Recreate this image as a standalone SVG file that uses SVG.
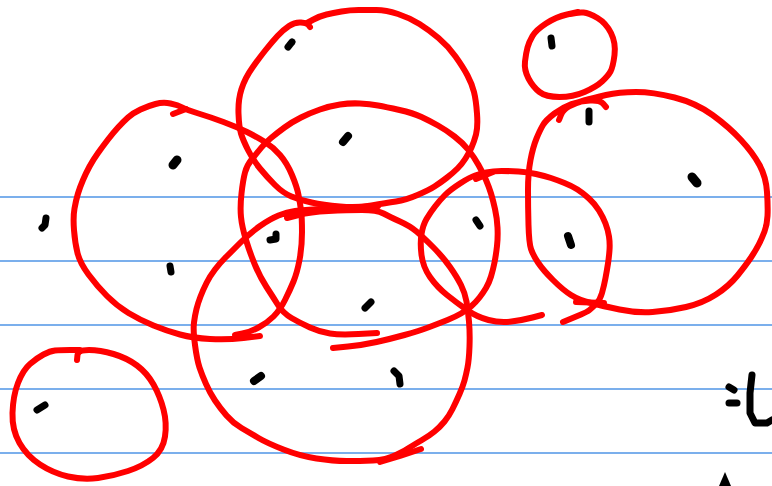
<svg xmlns="http://www.w3.org/2000/svg" width="772" height="486" viewBox="0 0 772 486">
<style>
.rule{stroke:#4f94e6;stroke-width:1.6;fill:none}
.red{stroke:#ff0000;stroke-width:6;fill:none;stroke-linecap:round;stroke-linejoin:round}
.dot{stroke:#000;stroke-width:7;fill:none;stroke-linecap:round;stroke-linejoin:round}
</style>
<rect width="772" height="486" fill="#ffffff"/>
<g id="rules">
<line class="rule" x1="0" y1="197" x2="772" y2="197"/>
<line class="rule" x1="0" y1="261" x2="772" y2="261"/>
<line class="rule" x1="0" y1="325" x2="772" y2="325"/>
<line class="rule" x1="0" y1="389" x2="772" y2="389"/>
<line class="rule" x1="0" y1="453" x2="772" y2="453"/>
</g>
<g id="circles">
<path id="circleA" class="red" d="M307,23 L313.5,19.5 Q320,16 326.5,14.5 Q333,13 341.5,11.5 Q350,10 358.5,10 Q367,10 376.5,10 Q386,10 398,14 Q410,18 419.5,24 Q429,30 438.5,38 Q448,46 455.5,56.5 Q463,67 467.5,75.5 Q472,84 474,92 Q476,100 477,113.5 Q478,127 476,134.5 Q474,142 471.5,147.5 Q469,153 465.5,158.5 Q462,164 457.5,168.5 Q453,173 446.5,178 Q440,183 434.5,186.5 Q429,190 417.5,195 Q406,200 396,201.5 Q386,203 371.5,205.5 Q357,208 340,206.5 Q323,205 311.5,202.5 Q300,200 291.5,196.5 Q283,193 275,185 Q267,177 260,168.5 Q253,160 248,150 Q243,140 241,133.5 Q239,127 238.5,113.5 Q238,100 241.5,89 Q245,78 252.5,67.5 Q260,57 266,49.5 Q272,42 277.5,36 Q283,30 289,26 Q295,22 301,22.5 Q307,23 308.5,25 L310,27"/>
<path id="circleB" class="red" d="M377,333 L358.5,334 Q340,335 330,333.5 Q320,332 310,327.5 Q300,323 291.5,318 Q283,313 278,305 Q273,297 266.5,287 Q260,277 255,265 Q250,253 246,240 Q242,227 241,217 Q240,207 241.5,193.5 Q243,180 245,172.5 Q247,165 252,159 Q257,153 261,148 Q265,143 271,138 Q277,133 284.5,127.5 Q292,122 301,117.5 Q310,113 320,109.5 Q330,106 340,104.5 Q350,103 360,103.5 Q370,104 378,105.5 Q386,107 399.5,110 Q413,113 421.5,117 Q430,121 438,125.5 Q446,130 454.5,136.5 Q463,143 468.5,150 Q474,157 478.5,165 Q483,173 486,180 Q489,187 491,193.5 Q493,200 495,209 Q497,218 497.5,227.5 Q498,237 497,246 Q496,255 494.5,262.5 Q493,270 491,276.5 Q489,283 486,288 Q483,293 479.5,297.5 Q476,302 471.5,306 Q467,310 461,313.5 Q455,317 447.5,320 Q440,323 429.5,327 Q419,331 404.5,335 Q390,339 376.5,342 Q363,345 348,346.5 L333,348"/>
<path id="circleC" class="red" d="M287,218 L298.5,215 Q310,212 328.5,211 Q347,210 362,210 Q377,210 383.5,213.5 Q390,217 400,221.5 Q410,226 416.5,231.5 Q423,237 433,247 Q443,257 450,267 Q457,277 461,285 Q465,293 466.5,301.5 Q468,310 469,321.5 Q470,333 469.5,346.5 Q469,360 467.5,367.5 Q466,375 464.5,380.5 Q463,386 459.5,394 Q456,402 452.5,409 Q449,416 444.5,421.5 Q440,427 434.5,431.5 Q429,436 422,440 Q415,444 410.5,447 Q406,450 396,455 Q386,460 373,460.5 Q360,461 346.5,461 Q333,461 316.5,458.5 Q300,456 283.5,449.5 Q267,443 258.5,438 Q250,433 241.5,428 Q233,423 226.5,415.5 Q220,408 215,400.5 Q210,393 206,384 Q202,375 199.5,367.5 Q197,360 195,345 Q193,330 194,322.5 Q195,315 196.5,309 Q198,303 200.5,296.5 Q203,290 206.5,283 Q210,276 215,269.5 Q220,263 225,258 Q230,253 240,243 Q250,233 260,226 Q270,219 278.5,215.5 Q287,212 295,211 Q303,210 321.5,209 Q340,208 359,207 L378,206"/>
<path class="red" d="M380,462 L400,456 L421,449"/>
<path id="circleD" class="red" d="M542,315 L532.5,317.5 Q523,320 511.5,321.5 Q500,323 488.5,320 Q477,317 467,310 Q457,303 447,295 Q437,287 430,277 Q423,267 421.5,255 Q420,243 421.5,234 Q423,225 426.5,219 Q430,213 435,206.5 Q440,200 445,195 Q450,190 460,183.5 Q470,177 475,175.5 Q480,174 486.5,172.5 Q493,171 501.5,171 Q510,171 518.5,171.5 Q527,172 536,174 Q545,176 551,178 Q557,180 564.5,183 Q572,186 577.5,189.5 Q583,193 589,198.5 Q595,204 599,210.5 Q603,217 605.5,223.5 Q608,230 609,236.5 Q610,243 609.5,250 Q609,257 608,263.5 Q607,270 605.5,278 Q604,286 602,293 Q600,300 596,304 Q592,308 589.5,310 Q587,312 581,314.5 Q575,317 569,319.5 L563,322"/>
<path class="red" d="M476,179 L493,172"/>
<path id="circleE" class="red" d="M260,336 L243.5,338 Q227,340 210,339 Q193,338 180,334.5 Q167,331 153.5,325.5 Q140,320 128.5,313 Q117,306 107,296 Q97,286 88.5,274.5 Q80,263 77.5,253 Q75,243 74,230 Q73,217 74.5,208.5 Q76,200 78,193.5 Q80,187 83,180 Q86,173 89.5,166.5 Q93,160 98,153 Q103,146 108,139.5 Q113,133 118,127.5 Q123,122 128,117.5 Q133,113 140.5,109.5 Q148,106 155.5,104 Q163,102 170.5,103.5 Q178,105 182.5,107.5 Q187,110 198.5,113.5 Q210,117 223.5,122 Q237,127 247,132 Q257,137 265,142 Q273,147 280,155 Q287,163 292,175 Q297,187 298.5,195 Q300,203 301,210 Q302,217 302,232 Q302,247 299.5,260 Q297,273 293.5,281.5 Q290,290 285,300 Q280,310 273.5,316.5 Q267,323 258.5,327.5 Q250,332 242.5,333.5 L235,335"/>
<path class="red" d="M173,114 L186,109"/>
<path id="circleF" class="red" d="M578,12 L567,14.5 Q556,17 546,23.5 Q536,30 532.5,36 Q529,42 527.5,47.5 Q526,53 525,61.5 Q524,70 528.5,78.5 Q533,87 539.5,92 Q546,97 559.5,97 Q573,97 584.5,92 Q596,87 602,81.5 Q608,76 610.5,71.5 Q613,67 614.5,55 Q616,43 611,33 Q606,23 597.5,18 Q589,13 583.5,12.5 Q578,12 570,14"/>
<path id="circleG" class="red" d="M559,120 L561,115 Q563,110 569,106.5 Q575,103 584,100.5 Q593,98 606,95 Q619,92 636,92 Q653,92 674.5,97.5 Q696,103 712.5,115 Q729,127 741,140 Q753,153 759.5,165 Q766,177 767,192 Q768,207 767.5,216 Q767,225 764.5,231.5 Q762,238 759,244 Q756,250 751,257.5 Q746,265 737.5,275.5 Q729,286 716,294.5 Q703,303 686,307 Q669,311 652.5,312 Q636,313 619.5,309.5 Q603,306 591,303 Q579,300 571,295 Q563,290 553,280 Q543,270 538,262.5 Q533,255 531,249 Q529,243 528.5,225 Q528,207 528,190 Q528,173 530.5,160 Q533,147 536.5,138.5 Q540,130 543,125 Q546,120 554.5,113.5 Q563,107 571.5,104 Q580,101 590,100.5 Q600,100 603,103.5 L606,107"/>
<path class="red" d="M576,302 L604,303"/>
<path id="circleH" class="red" d="M77,360 L77.5,355 Q78,350 89,350 Q100,350 113.5,354 Q127,358 137,365.5 Q147,373 153.5,384.5 Q160,396 163.5,409.5 Q167,423 165,436.5 Q163,450 153,458 Q143,466 128,471 Q113,476 98,478 Q83,480 68,476.5 Q53,473 40,464.5 Q27,456 19.5,443 Q12,430 12.5,413 Q13,396 18,383 Q23,370 30,364 Q37,358 43.5,354.5 Q50,351 55,350.5 Q60,350 70,350 L80,350"/>
</g>
<g id="marks">
<path class="dot" d="M288,47 L292,42"/>
<path class="dot" style="stroke-width:9" d="M173,165 L177,160"/>
<path class="dot" style="stroke-width:8" d="M343,142 L348,136"/>
<path class="dot" d="M46,218 L45,225 L42,228"/>
<path class="dot" d="M276,234 L276,239 L270,240"/>
<path class="dot" d="M170,266 L171,272"/>
<path class="dot" d="M365,308 L371,302"/>
<path class="dot" style="stroke-width:8" d="M254,381 L261,376"/>
<path class="dot" d="M37,410 L45,405"/>
<path class="dot" d="M394,371 L399,376 L400,384"/>
<path class="dot" d="M551,38 L552,46"/>
<path class="dot" d="M589,111 L589,122"/>
<path class="dot" style="stroke-width:9" d="M692,177 L697,183"/>
<path class="dot" d="M476,220 L480,226"/>
<path class="dot" style="stroke-width:8" d="M568,236 L571,245"/>
<path class="dot" d="M729,387 L734,390"/>
<path class="dot" d="M729,403 L737,403"/>
<path class="dot" d="M752,375 L750,393 L750,413 L755,423 L767,423 L772,420"/>
<path d="M725,472 L719,486 L731,486 Z" fill="#000"/>
</g>
</svg>
